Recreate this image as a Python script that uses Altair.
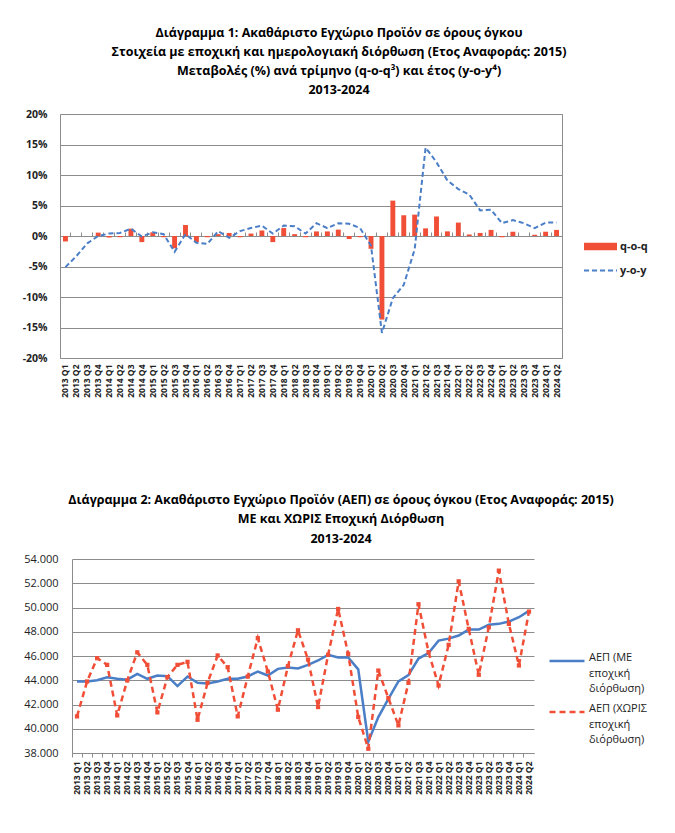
import altair as alt
import pandas as pd

FONT = "Open Sans"
RED = "#F04E37"
BLUE = "#4A7EC7"
GRID = "#8C8C8C"

years = ["2013", "2014", "2015", "2016", "2017", "2018", "2019", "2020", "2021", "2022", "2023", "2024"]
qtrs = ["Q1", "Q2", "Q3", "Q4"]
quarters = [f"{y} {q}" for y in years for q in qtrs][:46]

# Chart 1: % changes (seasonally adjusted)
qoq = [-0.9, 0.0, 0.0, 0.55,
       -0.25, -0.2, 1.2, -1.0,
       0.6, -0.2, -2.0, 1.8,
       -1.0, -0.2, 0.3, 0.5,
       -0.2, 0.4, 0.9, -1.0,
       1.3, 0.3, -0.2, 0.75,
       0.75, 1.05, -0.5, -0.2,
       -2.1, -13.7, 5.8, 3.4,
       3.5, 1.25, 3.2, 0.76,
       2.2, 0.25, 0.5, 1.0,
       -0.2, 0.7, 0.0, 0.2,
       0.7, 1.0]
yoy = [-5.1, -3.3, -1.2, 0.0,
       0.4, 0.5, 1.2, -0.1,
       0.6, 0.3, -2.6, 0.3,
       -1.1, -1.3, 0.8, -0.3,
       0.8, 1.3, 1.7, 0.4,
       1.7, 1.6, 0.4, 2.1,
       1.3, 2.1, 2.0, 1.3,
       -1.6, -15.9, -10.2, -8.0,
       -2.2, 14.5, 12.1, 9.1,
       7.7, 6.8, 4.2, 4.3,
       2.1, 2.6, 2.1, 1.3,
       2.2, 2.2]

# Chart 2: GDP levels (million euro, chain-linked 2015)
gdp_sa = [43900, 43900, 44000, 44250,
          44120, 44050, 44530, 44120,
          44390, 44340, 43520, 44310,
          43790, 43740, 43900, 44120,
          44120, 44310, 44720, 44390,
          44940, 45050, 44970, 45270,
          45630, 46100, 45880, 45880,
          44900, 38930, 40960, 42470,
          43900, 44430, 45790, 46240,
          47270, 47430, 47690, 48180,
          48180, 48570, 48650, 48840,
          49200, 49720]
gdp_nsa = [41020, 43900, 45820, 45270,
           41100, 43980, 46300, 45270,
           41350, 44260, 45270, 45520,
           40740, 43790, 46040, 45080,
           41020, 44310, 47470, 44720,
           41570, 45160, 48120, 45710,
           41790, 46100, 49880, 46180,
           40970, 38350, 44800, 42530,
           40280, 43790, 50270, 46320,
           43570, 46920, 52160, 48240,
           44450, 48370, 53040, 48650,
           45220, 49660]

pct_ticks = [-20, -15, -10, -5, 0, 5, 10, 15, 20]
gdp_ticks = [38000, 40000, 42000, 44000, 46000, 48000, 50000, 52000, 54000]

S1 = "q-o-q"
S2 = "y-o-y"
SA = "ΑΕΠ (ΜΕ εποχική διόρθωση)"
NSA = "ΑΕΠ (ΧΩΡΙΣ εποχική διόρθωση)"

df1 = pd.DataFrame({"quarter": quarters, "qoq": qoq, "yoy": yoy, "s1": S1, "s2": S2})
df_sa = pd.DataFrame({"quarter": quarters, "value": gdp_sa, "series": SA})
df_nsa = pd.DataFrame({"quarter": quarters, "value": gdp_nsa, "series": NSA})

LABEL_SPLIT = "split(replace(datum.label, ' εποχική ', '|εποχική|'), '|')"

# ---------------- Chart 1 ----------------
xscale1 = alt.Scale(paddingInner=0, paddingOuter=0)
yaxis1 = alt.Axis(title=None, values=pct_ticks, labelExpr="datum.value + '%'",
                  labelFont=FONT, labelFontSize=10.5, labelFontWeight="bold", labelColor="#222",
                  grid=True, gridColor=GRID, gridOpacity=1, domain=False, ticks=False,
                  labelPadding=13, labelOverlap=False)
yscale1 = alt.Scale(domain=[-20, 20])

bars = alt.Chart(df1).mark_bar(width=alt.RelativeBandSize(0.45)).encode(
    x=alt.X("quarter:O", sort=quarters, scale=xscale1,
            axis=alt.Axis(title=None, labelAngle=-90, labelFont=FONT, labelFontSize=8.5,
                          labelFontWeight="bold", labelColor="#222", ticks=False, domain=False,
                          labelPadding=6, labelBaseline="middle", labelAlign="right",
                          labelOverlap=False)),
    y=alt.Y("qoq:Q", scale=yscale1, axis=yaxis1),
    fill=alt.Fill("s1:N", scale=alt.Scale(domain=[S1], range=[RED]),
                  legend=alt.Legend(title=None, orient="none", legendX=523, legendY=115,
                                    symbolType="M-1,-0.22H1V0.22H-1Z", symbolSize=1089,
                                    labelFont=FONT, labelFontSize=11, labelFontWeight="bold",
                                    labelColor="#222", labelOffset=2, padding=0)),
)

line1 = alt.Chart(df1).mark_line(strokeDash=[5, 3], strokeWidth=2).encode(
    x=alt.X("quarter:O", sort=quarters, scale=xscale1,
            axis=alt.Axis(title=None, labels=False, ticks=True, domain=True, bandPosition=0,
                          offset=-122, tickColor=GRID, domainColor=GRID, tickSize=4, grid=False)),
    y=alt.Y("yoy:Q", scale=yscale1, axis=yaxis1),
    stroke=alt.Stroke("s2:N", scale=alt.Scale(domain=[S2], range=[BLUE]),
                      legend=alt.Legend(title=None, orient="none", legendX=523, legendY=139,
                                        symbolType="stroke", symbolSize=1089, symbolStrokeWidth=2,
                                        symbolDash=[5, 3], labelFont=FONT, labelFontSize=11,
                                        labelFontWeight="bold", labelColor="#222", labelOffset=2,
                                        padding=0)),
)

chart1 = alt.layer(bars, line1).resolve_axis(x="independent").properties(
    width=502, height=244,
    view=alt.ViewBackground(stroke=GRID, strokeWidth=1),
    title=alt.TitleParams(
        text=["Διάγραμμα 1: Ακαθάριστο Εγχώριο Προϊόν σε όρους όγκου",
              "Στοιχεία με εποχική και ημερολογιακή διόρθωση (Ετος Αναφοράς: 2015)",
              "Μεταβολές (%) ανά τρίμηνο (q-o-q³) και έτος (y-o-y⁴)",
              "2013-2024"],
        font=FONT, fontSize=12.5, fontWeight="bold", lineHeight=19.3, anchor="middle",
        frame="group", dx=28, offset=12, color="black"),
)

# ---------------- Chart 2 ----------------
# plot area of chart 2 starts 12px to the right of chart 1's
xscale2 = alt.Scale(type="band", paddingInner=0, paddingOuter=0, range=[12, 474])
x2 = alt.X("quarter:O", sort=quarters, scale=xscale2,
           axis=alt.Axis(title=None, labelAngle=-90, labelFont=FONT, labelFontSize=8.5,
                         labelFontWeight="bold", labelColor="#222", bandPosition=0,
                         ticks=True, tickColor=GRID, tickSize=4, domainColor=GRID,
                         labelPadding=4, labelBaseline="middle", labelAlign="right",
                         labelOverlap=False))
y2 = alt.Y("value:Q", scale=alt.Scale(domain=[38000, 54000]),
           axis=alt.Axis(title=None, values=gdp_ticks, offset=-12,
                         labelExpr="replace(format(datum.value, ','), ',', '.')",
                         labelFont=FONT, labelFontSize=11, labelColor="#222", grid=True,
                         gridColor=GRID, gridOpacity=1, domainColor=GRID, ticks=False,
                         labelPadding=14, labelOverlap=False))

line_sa = alt.Chart(df_sa).mark_line(strokeWidth=2.5).encode(
    x=x2, y=y2,
    stroke=alt.Stroke("series:N", scale=alt.Scale(domain=[SA], range=[BLUE]),
                      legend=alt.Legend(title=None, orient="none", legendX=488, legendY=83,
                                        symbolType="stroke", symbolSize=1225, symbolStrokeWidth=2.5,
                                        labelFont=FONT, labelFontSize=11, labelColor="#222",
                                        labelExpr=LABEL_SPLIT, labelBaseline="alphabetic",
                                        labelOffset=3, padding=0)),
)

line_nsa = alt.Chart(df_nsa).mark_line(strokeWidth=2.5, strokeDash=[6, 4]).encode(
    x=x2, y=y2,
    color=alt.Color("series:N", scale=alt.Scale(domain=[NSA], range=[RED]),
                    legend=alt.Legend(title=None, orient="none", legendX=488, legendY=134,
                                      symbolType="stroke", symbolSize=1225, symbolStrokeWidth=2.5,
                                      symbolDash=[6, 4], labelFont=FONT, labelFontSize=11,
                                      labelColor="#222", labelExpr=LABEL_SPLIT,
                                      labelBaseline="alphabetic", labelOffset=3, padding=0)),
)

points_nsa = alt.Chart(df_nsa).mark_point(
    shape="square", filled=True, size=18, color=RED, opacity=1
).encode(x=x2, y=y2)

chart2 = alt.layer(line_sa, line_nsa, points_nsa).properties(
    width=474, height=194,
    view=alt.ViewBackground(stroke=None),
    title=alt.TitleParams(
        text=["Διάγραμμα 2: Ακαθάριστο Εγχώριο Προϊόν (ΑΕΠ) σε όρους όγκου (Ετος Αναφοράς: 2015)",
              "ΜΕ και ΧΩΡΙΣ Εποχική Διόρθωση",
              "2013-2024"],
        font=FONT, fontSize=12.5, fontWeight="bold", lineHeight=19.5, anchor="middle",
        frame="group", dx=44, offset=8, color="black"),
)

chart = alt.concat(chart1, chart2, columns=1, spacing=95).resolve_scale(
    color="independent", fill="independent", stroke="independent", strokeDash="independent"
).properties(
    padding={"left": 13, "top": 18, "right": 0, "bottom": 0},
).configure(background="white", style={"guide-label": {"lineHeight": 15.5}})

chart.save("out.html", embed_options={"renderer": "svg", "actions": False})
